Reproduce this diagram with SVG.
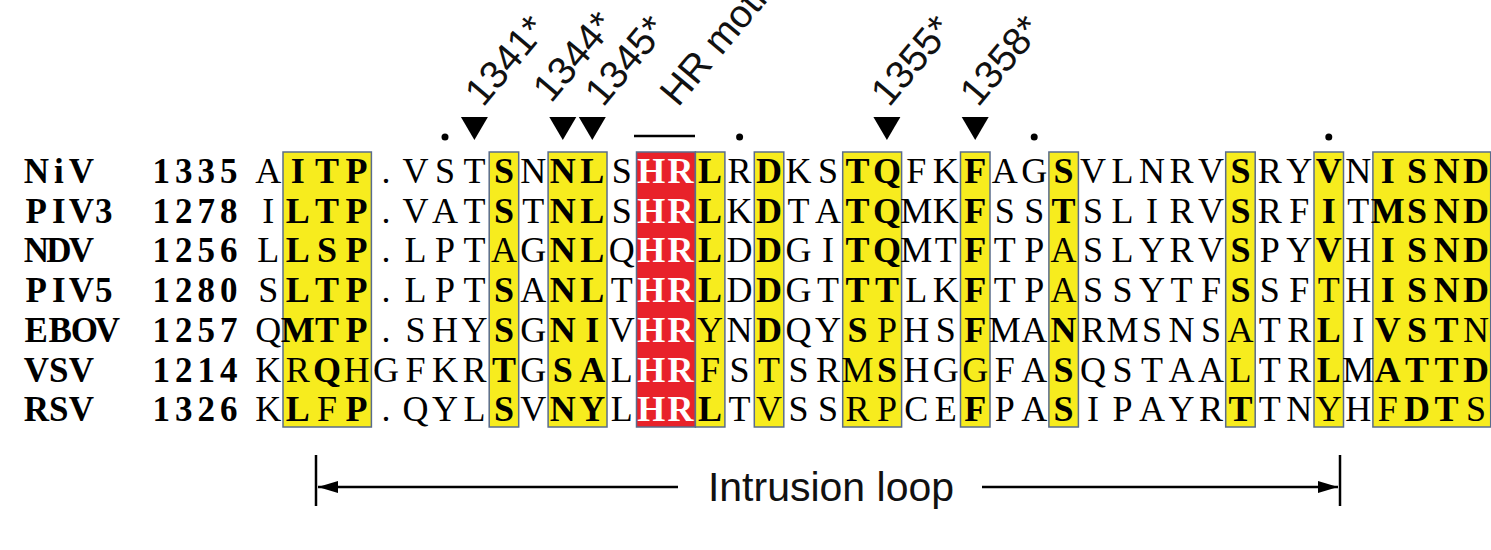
<svg xmlns="http://www.w3.org/2000/svg" width="1491" height="550" viewBox="0 0 1491 550">
<style>
.seq{font-family:"Liberation Serif","Times New Roman",serif;font-size:36px;fill:#000;text-anchor:middle}
.b{font-weight:bold}
.w{fill:#fff;font-weight:bold}
.nm{font-family:"Liberation Serif","Times New Roman",serif;font-size:35px;font-weight:bold;text-anchor:middle}
.box{fill:#f7ec1e;stroke:#5a6c8c;stroke-width:1.5}
.red{fill:#e8222a;stroke:#5a6c8c;stroke-width:1.5}
.lab{font-family:"Liberation Sans",Arial,sans-serif;font-size:39px;fill:#111}
.tri{fill:#000}
</style>
<defs>
<marker id="ah" viewBox="0 0 20 12" refX="20" refY="6" markerWidth="20" markerHeight="12" markerUnits="userSpaceOnUse" orient="auto"><path d="M0,0 L20,6 L0,12 z" fill="#000"/></marker>
</defs>
<g id="boxes">
<rect class="box" x="283" y="152" width="88.4" height="275"/>
<rect class="box" x="489.2" y="152" width="29.5" height="275"/>
<rect class="box" x="548.1" y="152" width="58.9" height="275"/>
<rect class="red" x="636.5" y="152" width="58.9" height="275"/>
<rect class="box" x="695.4" y="152" width="29.5" height="275"/>
<rect class="box" x="754.3" y="152" width="29.5" height="275"/>
<rect class="box" x="842.7" y="152" width="58.9" height="275"/>
<rect class="box" x="960.5" y="152" width="29.5" height="275"/>
<rect class="box" x="1048.9" y="152" width="29.5" height="275"/>
<rect class="box" x="1225.7" y="152" width="29.5" height="275"/>
<rect class="box" x="1314" y="152" width="29.5" height="275"/>
<rect class="box" x="1372.9" y="152" width="117.8" height="275"/>
</g>
<g id="names" class="nm">
<text x="36.3 58.8 81.3" y="183">NiV</text><text x="161.3 183.8 206.3 228.8" y="183">1335</text>
<text x="36.3 58.8 81.3 103.8" y="222.7">PIV3</text><text x="161.3 183.8 206.3 228.8" y="222.7">1278</text>
<text x="36.3 58.8 81.3" y="262.4">NDV</text><text x="161.3 183.8 206.3 228.8" y="262.4">1256</text>
<text x="36.3 58.8 81.3 103.8" y="302.1">PIV5</text><text x="161.3 183.8 206.3 228.8" y="302.1">1280</text>
<text x="36.3 60.3 84.3 107.3" y="341.8">EBOV</text><text x="161.3 183.8 206.3 228.8" y="341.8">1257</text>
<text x="36.3 58.8 81.3" y="381.5">VSV</text><text x="161.3 183.8 206.3 228.8" y="381.5">1214</text>
<text x="36.3 58.8 81.3" y="421.2">RSV</text><text x="161.3 183.8 206.3 228.8" y="421.2">1326</text>
</g>
<g id="sequences" class="seq">
<text y="183" x="268.2 297.7 327.1 356.6 386.0 415.5 445.0 474.4 503.9 533.3 562.8 592.3 621.7 651.2 680.6 710.1 739.6 769.0 798.5 827.9 857.4 886.9 916.3 945.8 975.2 1004.7 1034.2 1063.6 1093.1 1122.5 1152.0 1181.5 1210.9 1240.4 1269.8 1299.3 1328.8 1358.2 1387.7 1417.1 1446.6 1476.1">A<tspan class="b">ITP</tspan>.VST<tspan class="b">S</tspan>N<tspan class="b">NL</tspan>S<tspan class="w">HR</tspan><tspan class="b">L</tspan>R<tspan class="b">D</tspan>KS<tspan class="b">TQ</tspan>FK<tspan class="b">F</tspan>AG<tspan class="b">S</tspan>VLNRV<tspan class="b">S</tspan>RY<tspan class="b">V</tspan>N<tspan class="b">ISND</tspan></text>
<text y="222.7" x="268.2 297.7 327.1 356.6 386.0 415.5 445.0 474.4 503.9 533.3 562.8 592.3 621.7 651.2 680.6 710.1 739.6 769.0 798.5 827.9 857.4 886.9 916.3 945.8 975.2 1004.7 1034.2 1063.6 1093.1 1122.5 1152.0 1181.5 1210.9 1240.4 1269.8 1299.3 1328.8 1358.2 1387.7 1417.1 1446.6 1476.1">I<tspan class="b">LTP</tspan>.VAT<tspan class="b">S</tspan>T<tspan class="b">NL</tspan>S<tspan class="w">HR</tspan><tspan class="b">L</tspan>K<tspan class="b">D</tspan>TA<tspan class="b">TQ</tspan>MK<tspan class="b">F</tspan>SS<tspan class="b">T</tspan>SLIRV<tspan class="b">S</tspan>RF<tspan class="b">I</tspan>T<tspan class="b">MSND</tspan></text>
<text y="262.4" x="268.2 297.7 327.1 356.6 386.0 415.5 445.0 474.4 503.9 533.3 562.8 592.3 621.7 651.2 680.6 710.1 739.6 769.0 798.5 827.9 857.4 886.9 916.3 945.8 975.2 1004.7 1034.2 1063.6 1093.1 1122.5 1152.0 1181.5 1210.9 1240.4 1269.8 1299.3 1328.8 1358.2 1387.7 1417.1 1446.6 1476.1">L<tspan class="b">LSP</tspan>.LPTAG<tspan class="b">NL</tspan>Q<tspan class="w">HR</tspan><tspan class="b">L</tspan>D<tspan class="b">D</tspan>GI<tspan class="b">TQ</tspan>MT<tspan class="b">F</tspan>TPASLYRV<tspan class="b">S</tspan>PY<tspan class="b">V</tspan>H<tspan class="b">ISND</tspan></text>
<text y="302.1" x="268.2 297.7 327.1 356.6 386.0 415.5 445.0 474.4 503.9 533.3 562.8 592.3 621.7 651.2 680.6 710.1 739.6 769.0 798.5 827.9 857.4 886.9 916.3 945.8 975.2 1004.7 1034.2 1063.6 1093.1 1122.5 1152.0 1181.5 1210.9 1240.4 1269.8 1299.3 1328.8 1358.2 1387.7 1417.1 1446.6 1476.1">S<tspan class="b">LTP</tspan>.LPT<tspan class="b">S</tspan>A<tspan class="b">NL</tspan>T<tspan class="w">HR</tspan><tspan class="b">L</tspan>D<tspan class="b">D</tspan>GT<tspan class="b">TT</tspan>LK<tspan class="b">F</tspan>TPASSYTF<tspan class="b">S</tspan>SFTH<tspan class="b">ISND</tspan></text>
<text y="341.8" x="268.2 297.7 327.1 356.6 386.0 415.5 445.0 474.4 503.9 533.3 562.8 592.3 621.7 651.2 680.6 710.1 739.6 769.0 798.5 827.9 857.4 886.9 916.3 945.8 975.2 1004.7 1034.2 1063.6 1093.1 1122.5 1152.0 1181.5 1210.9 1240.4 1269.8 1299.3 1328.8 1358.2 1387.7 1417.1 1446.6 1476.1">Q<tspan class="b">MTP</tspan>.SHY<tspan class="b">S</tspan>G<tspan class="b">NI</tspan>V<tspan class="w">HR</tspan>YN<tspan class="b">D</tspan>QY<tspan class="b">S</tspan>PHS<tspan class="b">F</tspan>MA<tspan class="b">N</tspan>RMSNSATR<tspan class="b">L</tspan>I<tspan class="b">VST</tspan>N</text>
<text y="381.5" x="268.2 297.7 327.1 356.6 386.0 415.5 445.0 474.4 503.9 533.3 562.8 592.3 621.7 651.2 680.6 710.1 739.6 769.0 798.5 827.9 857.4 886.9 916.3 945.8 975.2 1004.7 1034.2 1063.6 1093.1 1122.5 1152.0 1181.5 1210.9 1240.4 1269.8 1299.3 1328.8 1358.2 1387.7 1417.1 1446.6 1476.1">KR<tspan class="b">Q</tspan>HGFKR<tspan class="b">T</tspan>G<tspan class="b">SA</tspan>L<tspan class="w">HR</tspan>FSTSRM<tspan class="b">S</tspan>HGGFA<tspan class="b">S</tspan>QSTAALTR<tspan class="b">L</tspan>M<tspan class="b">ATTD</tspan></text>
<text y="421.2" x="268.2 297.7 327.1 356.6 386.0 415.5 445.0 474.4 503.9 533.3 562.8 592.3 621.7 651.2 680.6 710.1 739.6 769.0 798.5 827.9 857.4 886.9 916.3 945.8 975.2 1004.7 1034.2 1063.6 1093.1 1122.5 1152.0 1181.5 1210.9 1240.4 1269.8 1299.3 1328.8 1358.2 1387.7 1417.1 1446.6 1476.1">K<tspan class="b">L</tspan>F<tspan class="b">P</tspan>.QYL<tspan class="b">S</tspan>V<tspan class="b">NY</tspan>L<tspan class="w">HR</tspan><tspan class="b">L</tspan>TVSSRPCE<tspan class="b">F</tspan>PA<tspan class="b">S</tspan>IPAYR<tspan class="b">T</tspan>TNYHF<tspan class="b">DT</tspan>S</text>
</g>
<g id="markers">
<circle cx="445" cy="137" r="3.5"/><circle cx="739.6" cy="137" r="3.5"/><circle cx="1034.2" cy="137" r="3.5"/><circle cx="1328.8" cy="137" r="3.5"/>
<path class="tri" d="M460.9,117 h27 l-13.5,23 z"/>
<path class="tri" d="M549.3,117 h27 l-13.5,23 z"/>
<path class="tri" d="M578.8,117 h27 l-13.5,23 z"/>
<path class="tri" d="M873.4,117 h27 l-13.5,23 z"/>
<path class="tri" d="M961.7,117 h27 l-13.5,23 z"/>
<line x1="634" y1="136" x2="695" y2="136" stroke="#000" stroke-width="2.5"/>
</g>
<g id="labels" class="lab">
<text transform="translate(483,108) rotate(-50)">1341*</text>
<text transform="translate(551,104) rotate(-50)">1344*</text>
<text transform="translate(603,108) rotate(-50)">1345*</text>
<text transform="translate(678,108) rotate(-50)">HR motif</text>
<text transform="translate(889,108) rotate(-50)">1355*</text>
<text transform="translate(978,108) rotate(-50)">1358*</text>
</g>
<g id="connectors" stroke="#000" stroke-width="2.5" fill="none">
<line x1="316" y1="455" x2="316" y2="506"/>
<line x1="1340" y1="455" x2="1340" y2="506"/>
<line x1="678" y1="487" x2="318" y2="487" marker-end="url(#ah)"/>
<line x1="982" y1="487" x2="1338" y2="487" marker-end="url(#ah)"/>
</g>
<text class="lab" x="831" y="501" text-anchor="middle" style="font-size:41px">Intrusion loop</text>
</svg>
